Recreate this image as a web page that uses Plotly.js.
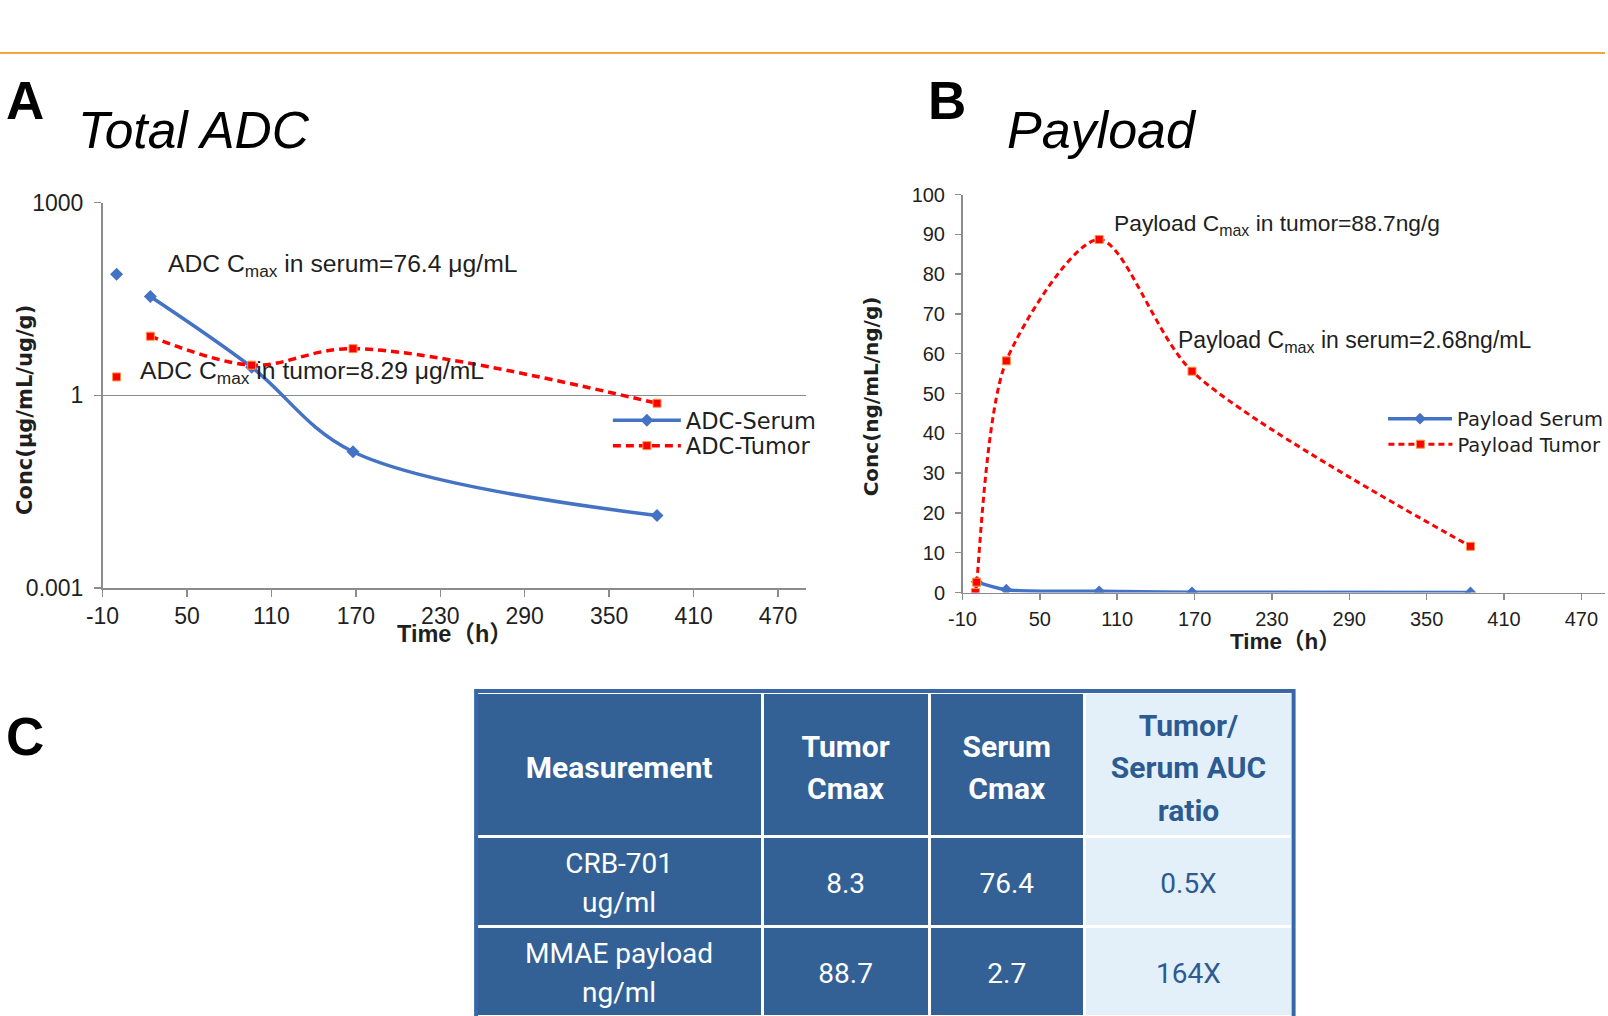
<!DOCTYPE html>
<html>
<head>
<meta charset="utf-8">
<script src="https://cdn.plot.ly/plotly-3.0.1.min.js"></script>
<style>
html, body { margin: 0; padding: 0; background: #ffffff; }
#chart { width: 1608px; height: 1016px; }
</style>
</head>
<body>
<div id="chart"></div>
<script>
// ---------- Panel A: Total ADC (log scale) ----------
const adcTimeSerum = [0, 24, 96, 168, 384];
const adcSerum     = [76.4, 34.4, 2.73, 0.132, 0.0134];
const adcTimeTumor = [0, 24, 96, 168, 384];
const adcTumor     = [1.93, 8.29, 2.94, 5.31, 0.75];

// ---------- Panel B: Payload (linear scale) ----------
const plTimeSerum = [1, 24, 96, 168, 384];
const plSerum     = [2.68, 0.7, 0.3, 0.05, 0.02];
const plTimeTumor = [0, 1, 24, 96, 168, 384];
const plTumor     = [0, 2.6, 58.2, 88.7, 55.6, 11.6];

// ---------- Ticks ----------
const timeTicks    = [-10, 50, 110, 170, 230, 290, 350, 410, 470];
const timeTickText = ['-10', '50', '110', '170', '230', '290', '350', '410', '470'];
const logTickVals  = [0.001, 1, 1000];
const logTickText  = ['0.001', '1', '1000'];
const linTickVals  = [0, 10, 20, 30, 40, 50, 60, 70, 80, 90, 100];

// ---------- Table C ----------
const tableHeader      = ['Measurement', 'Tumor<br>Cmax', 'Serum<br>Cmax', 'Tumor/<br>Serum AUC<br>ratio'];
const tableMeasurement = ['CRB-701<br>ug/ml', 'MMAE payload<br>ng/ml'];
const tableTumorCmax   = ['8.3', '88.7'];
const tableSerumCmax   = ['76.4', '2.7'];
const tableAucRatio    = ['0.5X', '164X'];

// ---------- helpers ----------
const PW = 1608, PH = 1016;
const px = v => v / PW;
const py = v => 1 - v / PH;

const BLUE = '#4472c4';
const RED = '#ff0000';
const SQ_EDGE = '#f79646';
const TXT = '#1f1f1f';
const AXC = '#8c8c8c';
const TDARK = '#336196';
const TLIGHT = '#e3f0fa';
const TBLUETXT = '#2c5b91';
const fontMain = 'Liberation Sans, Arial, sans-serif';

// table geometry (layout only)
const colEdges = [477, 764, 931, 1087, 1295];
const colWidths = colEdges.slice(1).map((e, i) => e - colEdges[i]);
const tableTop = 692, headerH = 144, rowH = 90;
const blockCenters = [768, 883, 973];     // header, row 1, row 2 (text block centres)
const lineGaps = [42.5, 38.5, 38.5];
const colTextColor = ['#ffffff', '#ffffff', '#ffffff', TBLUETXT];
const tableCols = [tableMeasurement, tableTumorCmax, tableSerumCmax, tableAucRatio];

const traces = [
  // Panel A
  { x: [adcTimeSerum[0]], y: [adcSerum[0]], mode: 'markers', xaxis: 'x', yaxis: 'y',
    marker: { symbol: 'diamond', size: 10, color: BLUE }, showlegend: false, hoverinfo: 'skip' },
  { x: adcTimeSerum.slice(1), y: adcSerum.slice(1), mode: 'lines+markers', name: 'ADC-Serum',
    xaxis: 'x', yaxis: 'y', legend: 'legend',
    line: { color: BLUE, width: 3.5, shape: 'spline', smoothing: 1 },
    marker: { symbol: 'diamond', size: 10, color: BLUE } },
  { x: [adcTimeTumor[0]], y: [adcTumor[0]], mode: 'markers', xaxis: 'x', yaxis: 'y',
    marker: { symbol: 'square', size: 8, color: RED, line: { color: SQ_EDGE, width: 1 } },
    showlegend: false, hoverinfo: 'skip' },
  { x: adcTimeTumor.slice(1), y: adcTumor.slice(1), mode: 'lines+markers', name: 'ADC-Tumor',
    xaxis: 'x', yaxis: 'y', legend: 'legend3',
    line: { color: RED, width: 3.5, shape: 'spline', smoothing: 1, dash: '8px,5px' },
    marker: { symbol: 'square', size: 8, color: RED, line: { color: SQ_EDGE, width: 1 } } },
  // Panel B
  { x: plTimeSerum, y: plSerum, mode: 'lines+markers', name: 'Payload Serum',
    xaxis: 'x2', yaxis: 'y2', legend: 'legend2',
    line: { color: BLUE, width: 3.5, shape: 'spline', smoothing: 0.8 },
    marker: { symbol: 'diamond', size: 9, color: BLUE } },
  { x: plTimeTumor, y: plTumor, mode: 'lines+markers', name: 'Payload Tumor',
    xaxis: 'x2', yaxis: 'y2', legend: 'legend4',
    line: { color: RED, width: 3, shape: 'spline', smoothing: 0.8, dash: '6px,4px' },
    marker: { symbol: 'square', size: 8, color: RED, line: { color: SQ_EDGE, width: 1 } } },
  // Table C: cell grid (fills + white rules)
  { type: 'table',
    domain: { x: [px(colEdges[0]), px(colEdges[4])], y: [0, py(tableTop)] },
    columnwidth: colWidths,
    header: {
      values: tableHeader.map(() => ['']), height: headerH,
      fill: { color: [TDARK, TDARK, TDARK, TLIGHT] },
      line: { color: '#ffffff', width: 3 }, font: { size: 2 }
    },
    cells: {
      values: tableCols.map(col => col.map(() => '')), height: rowH,
      fill: { color: [TDARK, TDARK, TDARK, TLIGHT] },
      line: { color: '#ffffff', width: 3 }, font: { size: 2 }
    } }
];

// Table C text: one transparent single-cell table per text line, so every line is centred
function addTableLine(text, col, yCenter, isHeader) {
  const size = isHeader ? 30 : 28;
  const off = isHeader ? 20.5 : 19.5;
  const top = yCenter - off;
  traces.push({
    type: 'table',
    domain: { x: [px(colEdges[col]), px(colEdges[col + 1])], y: [py(top + 50), py(top)] },
    header: {
      values: [[text]], height: 50, align: 'center',
      fill: { color: 'rgba(0,0,0,0)' }, line: { color: 'rgba(0,0,0,0)', width: 0 },
      font: { family: 'Roboto, sans-serif', size: size, weight: isHeader ? 'bold' : 'normal', color: colTextColor[col] }
    },
    cells: { values: [] }
  });
}
function addBlock(text, col, blockIdx) {
  const lines = text.split('<br>');
  const n = lines.length;
  lines.forEach((ln, i) => {
    const y = blockCenters[blockIdx] + (i - (n - 1) / 2) * lineGaps[blockIdx];
    addTableLine(ln, col, y, blockIdx === 0);
  });
}
tableHeader.forEach((h, c) => addBlock(h, c, 0));
tableCols.forEach((col, c) => col.forEach((v, r) => addBlock(v, c, r + 1)));

const tickFontA = { family: fontMain, size: 23, color: TXT };
const tickFontB = { family: fontMain, size: 20, color: TXT };

function legendAt(x, yTop, size, iw) {
  return { x: px(x), y: py(yTop), xanchor: 'left', yanchor: 'top',
    bgcolor: 'rgba(0,0,0,0)', borderwidth: 0, itemwidth: iw, tracegroupgap: 0,
    font: { family: 'DejaVu Sans, sans-serif', size: size, color: TXT } };
}

const layout = {
  width: PW, height: PH,
  margin: { l: 0, r: 0, t: 0, b: 0 },
  paper_bgcolor: '#ffffff', plot_bgcolor: 'rgba(0,0,0,0)',
  showlegend: true,
  hovermode: false,
  xaxis: {
    domain: [px(102.7), px(807.7)], range: [-10, 490], anchor: 'y',
    tickvals: timeTicks, ticktext: timeTickText, ticks: 'outside', ticklen: 7, tickcolor: AXC, tickwidth: 1.5,
    showline: true, linecolor: AXC, linewidth: 1.5, showgrid: false, zeroline: false,
    tickfont: tickFontA, ticklabelstandoff: 0
  },
  yaxis: {
    domain: [py(588), py(202.5)], type: 'log', range: [-3, 3], anchor: 'x',
    tickvals: logTickVals, ticktext: logTickText, ticks: 'outside', ticklen: 7, tickcolor: AXC, tickwidth: 1.5,
    showline: true, linecolor: AXC, linewidth: 1.5,
    showgrid: true, gridcolor: AXC, gridwidth: 1.5, zeroline: false,
    tickfont: tickFontA, ticklabelstandoff: 6
  },
  xaxis2: {
    domain: [px(964.3), 1], range: [-10, -10 + (PW - 964.3) / 1.2917], anchor: 'y2',
    tickvals: timeTicks, ticktext: timeTickText, ticks: 'outside', ticklen: 6, tickcolor: AXC, tickwidth: 1.5,
    showline: true, linecolor: AXC, linewidth: 1.5, showgrid: false, zeroline: false,
    tickfont: tickFontB, ticklabelstandoff: 2
  },
  yaxis2: {
    domain: [py(592.5), py(194.5)], range: [0, 100], anchor: 'x2',
    tickvals: linTickVals, ticks: 'outside', ticklen: 6, tickcolor: AXC, tickwidth: 1.5,
    showline: true, linecolor: AXC, linewidth: 1.5, showgrid: false, zeroline: false,
    tickfont: tickFontB, ticklabelstandoff: 6
  },
  legend:  legendAt(609, 399, 22.5, 68),
  legend3: legendAt(609, 424.5, 22.5, 68),
  legend2: legendAt(1386, 399.5, 19.5, 64),
  legend4: legendAt(1386, 425, 19.5, 64),
  shapes: [
    { type: 'line', xref: 'paper', yref: 'paper', x0: 0, x1: 1, y0: py(53), y1: py(53),
      line: { color: '#f3a43b', width: 2 } },
    { type: 'rect', xref: 'paper', yref: 'paper', layer: 'above',
      x0: px(477), x1: px(1296), y0: py(1030), y1: py(691),
      line: { color: '#3767a6', width: 4 }, fillcolor: 'rgba(0,0,0,0)' }
  ],
  annotations: [
    // panel letters & titles
    { text: '<b>A</b>', x: px(4), y: py(100), xref: 'paper', yref: 'paper', xanchor: 'left', yanchor: 'middle',
      showarrow: false, font: { family: fontMain, size: 53, color: '#000' } },
    { text: '<i>Total ADC</i>', x: px(76), y: py(130), xref: 'paper', yref: 'paper', xanchor: 'left', yanchor: 'middle',
      showarrow: false, font: { family: fontMain, size: 51.5, color: '#000' } },
    { text: '<b>B</b>', x: px(928), y: py(100), xref: 'paper', yref: 'paper', xanchor: 'left', yanchor: 'middle',
      showarrow: false, font: { family: fontMain, size: 53, color: '#000' } },
    { text: '<i>Payload</i>', x: px(1007), y: py(130), xref: 'paper', yref: 'paper', xanchor: 'left', yanchor: 'middle',
      showarrow: false, font: { family: fontMain, size: 52, color: '#000' } },
    { text: '<b>C</b>', x: px(4), y: py(736), xref: 'paper', yref: 'paper', xanchor: 'left', yanchor: 'middle',
      showarrow: false, font: { family: fontMain, size: 53, color: '#000' } },
    // axis titles
    { text: '<b>Conc(μg/mL/ug/g)</b>', x: px(25), y: py(410), xref: 'paper', yref: 'paper', textangle: -90,
      xanchor: 'center', yanchor: 'middle', showarrow: false, font: { family: 'DejaVu Sans, sans-serif', size: 21, color: TXT } },
    { text: '<b>Time（h）</b>', x: px(456), y: py(634), xref: 'paper', yref: 'paper',
      xanchor: 'center', yanchor: 'middle', showarrow: false, font: { family: 'Liberation Sans, Noto Sans CJK SC, sans-serif', size: 23.5, color: TXT } },
    { text: '<b>Conc(ng/mL/ng/g)</b>', x: px(873), y: py(396), xref: 'paper', yref: 'paper', textangle: -90,
      xanchor: 'center', yanchor: 'middle', showarrow: false, font: { family: 'DejaVu Sans, sans-serif', size: 20, color: TXT } },
    { text: '<b>Time（h）</b>', x: px(1288), y: py(641), xref: 'paper', yref: 'paper',
      xanchor: 'center', yanchor: 'middle', showarrow: false, font: { family: 'Liberation Sans, Noto Sans CJK SC, sans-serif', size: 22.5, color: TXT } },
    // chart callouts
    { text: 'ADC C<sub>max</sub> in serum=76.4 μg/mL', x: px(166), y: py(265), xref: 'paper', yref: 'paper',
      xanchor: 'left', yanchor: 'middle', showarrow: false, font: { family: fontMain, size: 24.7, color: TXT } },
    { text: 'ADC C<sub>max</sub> in tumor=8.29 μg/mL', x: px(138), y: py(372), xref: 'paper', yref: 'paper',
      xanchor: 'left', yanchor: 'middle', showarrow: false, font: { family: fontMain, size: 24.7, color: TXT } },
    { text: 'Payload C<sub>max</sub> in tumor=88.7ng/g', x: px(1114), y: py(224), xref: 'paper', yref: 'paper',
      xanchor: 'left', yanchor: 'middle', showarrow: false, font: { family: fontMain, size: 22.8, color: TXT } },
    { text: 'Payload C<sub>max</sub> in serum=2.68ng/mL', x: px(1178), y: py(341), xref: 'paper', yref: 'paper',
      xanchor: 'left', yanchor: 'middle', showarrow: false, font: { family: fontMain, size: 23, color: TXT } }
  ]
};

Plotly.newPlot('chart', traces, layout, { displayModeBar: false, staticPlot: true });
</script>
</body>
</html>
